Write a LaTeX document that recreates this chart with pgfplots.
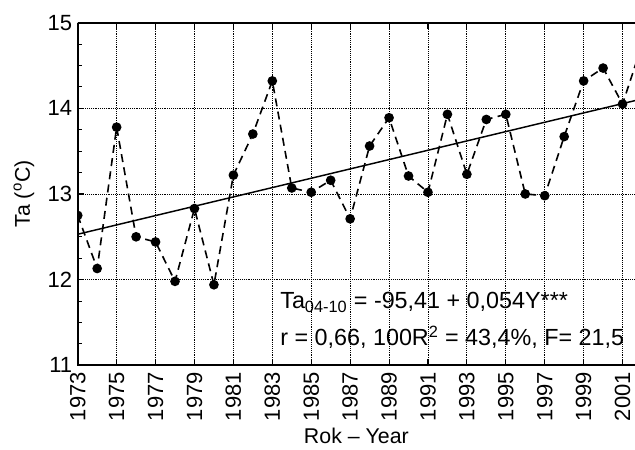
\documentclass[border=0pt]{standalone}
\usepackage{fontspec}
\setmainfont{Liberation Sans}
\usepackage{pgfplots}
\pgfplotsset{compat=1.18}

\begin{document}
\begin{tikzpicture}
\begin{axis}[
  at={(0,0)}, anchor=south west,
  scale only axis, width=418pt, height=257pt,
  xmin=1973, xmax=2001.64, ymin=11, ymax=15,
  axis x line=box, axis y line=left,
  y axis line style={-}, x axis line style={-},
  axis line style={line width=1.5pt},
  tick align=inside, tick style={black, line width=0.8pt},
  major tick length=5pt, minor tick length=3pt,
  xtick={1973,1975,...,2001}, minor x tick num=1,
  ytick={11,12,13,14,15}, minor y tick num=3,
  grid=major,
  major grid style={densely dotted, black, line width=0.6pt},
  /pgf/number format/1000 sep={},
  /pgf/number format/assume math mode=true,
  xticklabel style={rotate=90, anchor=east, inner sep=5pt, font=\fontsize{16.5}{17}\selectfont},
  yticklabel style={inner sep=4pt, font=\fontsize{16.5}{17}\selectfont},
  every axis x label/.style={at={(axis description cs:0.5,0)}, yshift=-58.5pt, anchor=base, font=\fontsize{16}{17}\selectfont},
  every axis y label/.style={at={(axis description cs:0,0.5)}, xshift=-40.3pt, rotate=90, anchor=center, font=\fontsize{16}{17}\selectfont},
  xlabel={Rok – Year},
  ylabel={Ta (\textsuperscript{o}C)},
  clip marker paths=true,
]
\addplot[black, line width=1.2pt, dash pattern=on 6pt off 4pt,
  mark=*, mark size=3pt, mark options={solid}] coordinates {
(1973,12.75) (1974,12.13) (1975,13.78) (1976,12.50) (1977,12.44)
(1978,11.98) (1979,12.83) (1980,11.94) (1981,13.22) (1982,13.70)
(1983,14.32) (1984,13.07) (1985,13.02) (1986,13.16) (1987,12.71)
(1988,13.56) (1989,13.89) (1990,13.21) (1991,13.02) (1992,13.93)
(1993,13.23) (1994,13.87) (1995,13.93) (1996,13.00) (1997,12.98)
(1998,13.67) (1999,14.32) (2000,14.47) (2001,14.05) (2002,14.74)
};
\addplot[black, line width=1.1pt] coordinates {(1973,12.53) (2001.64,14.09)};
\node[anchor=base west, inner sep=0pt, font=\fontsize{17.5}{18}\selectfont] at (axis cs:1983.4,11.66)
  {Ta\textsubscript{04-10} = -95,41 + 0,054Y***};
\node[anchor=base west, inner sep=0pt, font=\fontsize{17.5}{18}\selectfont] at (axis cs:1983.4,11.23)
  {r = 0,66, 100R\textsuperscript{2} = 43,4\%, F= 21,5};
\end{axis}
\pgfresetboundingbox
\useasboundingbox (-58.3pt,-62.8pt) rectangle (418pt,274pt);
\end{tikzpicture}
\end{document}
